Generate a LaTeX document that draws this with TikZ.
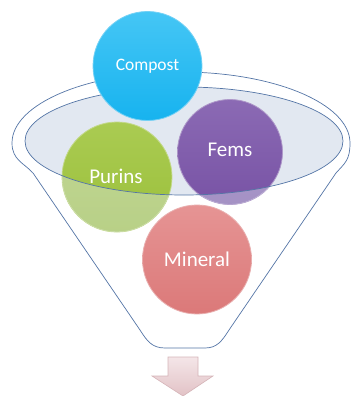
\documentclass[tikz,border=0pt]{standalone}
\usepackage{fontspec}
\setmainfont{Carlito}
\definecolor{rimblue}{HTML}{5475A6}
\definecolor{rimfill}{HTML}{E2E8F1}
\definecolor{cblue}{HTML}{17B3EF}
\definecolor{cbluetop}{HTML}{45C6F5}
\definecolor{cgreen}{HTML}{9BC03B}
\definecolor{cgreentop}{HTML}{AACB52}
\definecolor{cpurple}{HTML}{7853A5}
\definecolor{cpurpletop}{HTML}{8B6AB4}
\definecolor{cred}{HTML}{DB7979}
\definecolor{credtop}{HTML}{E69494}
\definecolor{arrtop}{HTML}{F4E6E8}
\definecolor{arrbot}{HTML}{E2C2C6}
\definecolor{arredge}{HTML}{D5B4B8}
\tikzset{
  ball/.style={circle, inner sep=0pt, text=white, line width=0.8pt},
  bigtxt/.style={font=\fontsize{21}{25}\selectfont},
  smalltxt/.style={font=\fontsize{17.5}{21}\selectfont},
  rimline/.style={draw=rimblue, line width=0.7pt},
}
\begin{document}
\begin{tikzpicture}[x=1pt,y=-1pt]
\useasboundingbox (0,0) rectangle (352,396);
% funnel outline
\draw[rimline, fill=white]
  (12,143) arc[start angle=180, end angle=0, x radius=169pt, y radius=71pt]
  .. controls (350,160) and (345,163) .. (336,173)
  -- (229,330) .. controls (222,341) and (217,348) .. (205,348)
  -- (165,348) .. controls (152,348) and (147,341) .. (140,330)
  -- (33,173) .. controls (24,163) and (12,160) .. (12,143) -- cycle;
% inner ellipse fill
\fill[rimfill] (184,141) ellipse [x radius=159pt, y radius=54pt];
% balls
\node[ball, minimum size=110pt, top color=cgreentop, bottom color=cgreen, draw=cgreen!60!white, bigtxt] (purins) at (117,177) {};
\node[ball, minimum size=105pt, top color=cpurpletop, bottom color=cpurple, draw=cpurple!60!white, bigtxt] (fems) at (230,152) {};
\node[ball, minimum size=109pt, top color=credtop, bottom color=cred, draw=cred!60!white, bigtxt] (mineral) at (197,259.5) {Mineral};
% lighten parts of purins and fems below the rim
\begin{scope}
  \clip (117,177) circle (55pt) (230,152) circle (52.5pt);
  \fill[rimfill, opacity=0.42, even odd rule] (0,0) rectangle (352,396)
    (184,141) ellipse [x radius=159pt, y radius=54pt];
\end{scope}
\node[text=white, bigtxt] (purinst) at (116,176) {Purins};
\node[text=white, bigtxt] (femst) at (230,150) {Fems};
% rim outline
\draw[rimline] (184,141) ellipse [x radius=159pt, y radius=54pt];
% compost on top
\node[ball, minimum size=109pt, top color=cbluetop, bottom color=cblue, draw=cblue!60!white, smalltxt] (compost) at (147.5,66) {Compost};
% arrow
\path[top color=arrtop, bottom color=arrbot, draw=arredge, line width=0.6pt]
  (168,357) -- (198,357) -- (198,376) -- (213,376) -- (183,396)
  -- (152,376) -- (168,376) -- cycle;
\end{tikzpicture}
\end{document}
